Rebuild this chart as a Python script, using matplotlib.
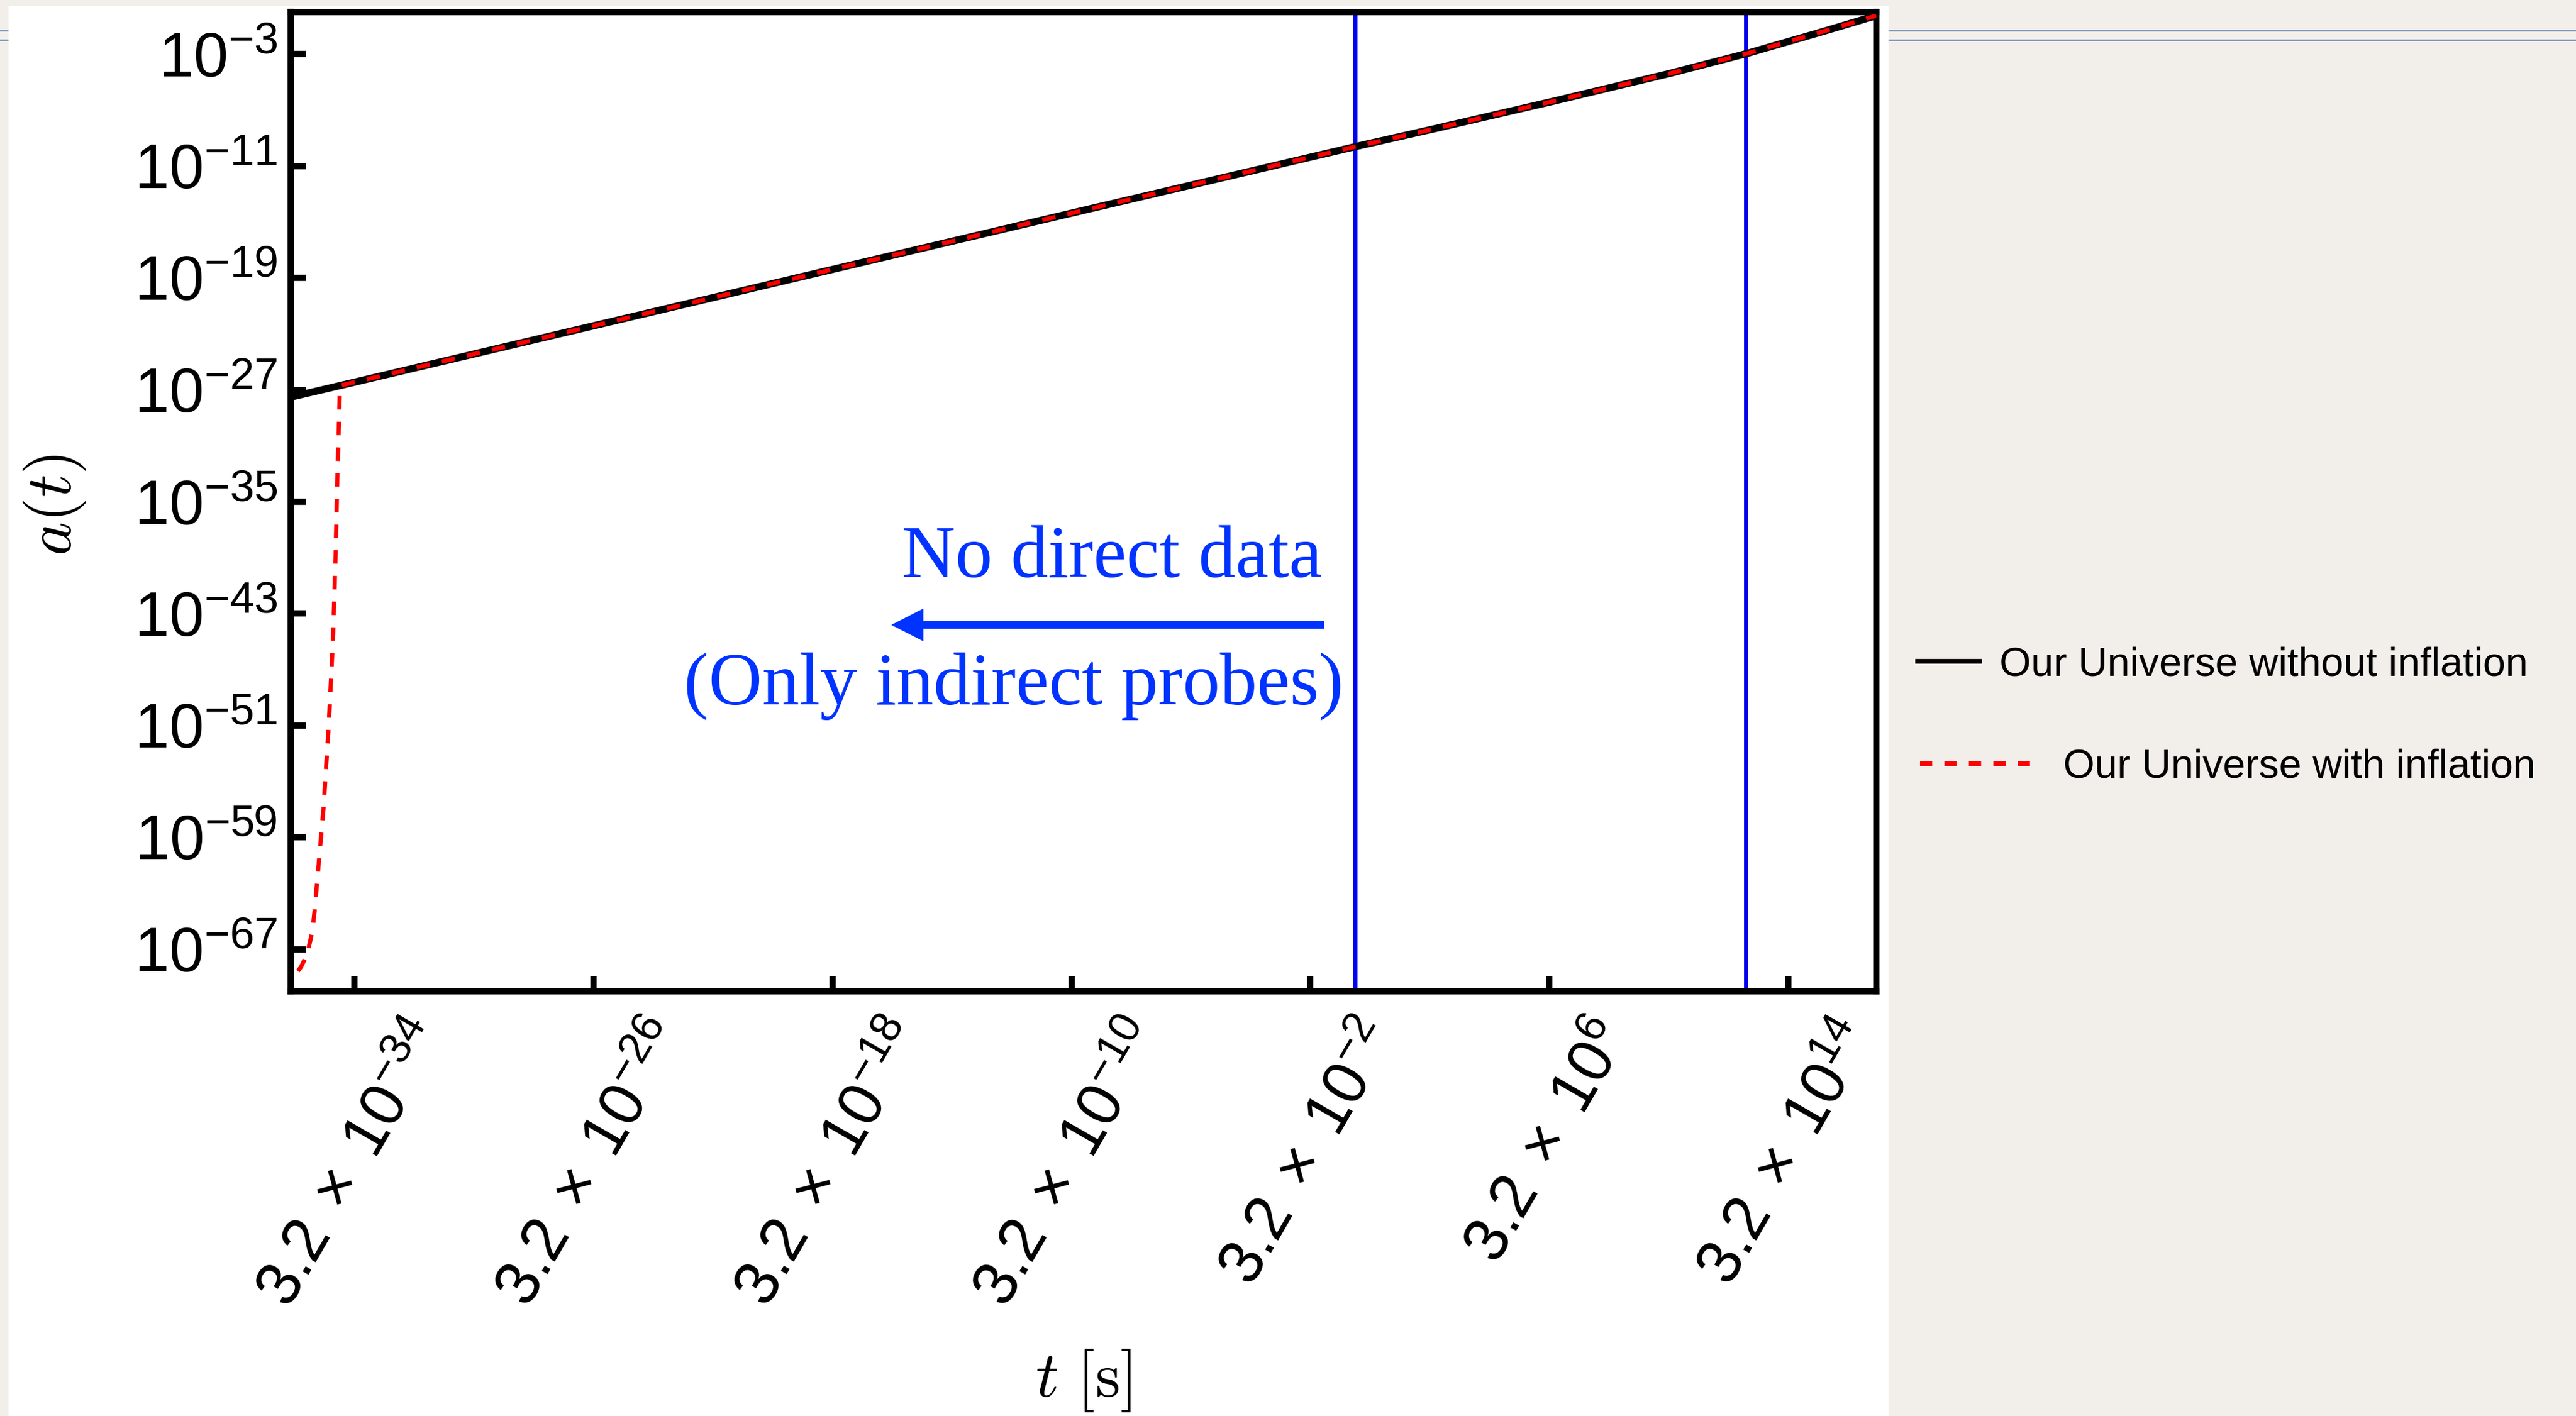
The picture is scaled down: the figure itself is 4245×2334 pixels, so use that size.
import matplotlib
matplotlib.use("Agg")
import matplotlib.pyplot as plt
from matplotlib.lines import Line2D
from matplotlib.patches import Rectangle, ArrowStyle
from matplotlib.ticker import NullLocator

plt.rcParams['font.family'] = ['Liberation Sans', 'DejaVu Sans']
plt.rcParams['mathtext.fontset'] = 'custom'
plt.rcParams['mathtext.rm'] = 'Liberation Sans'
plt.rcParams['mathtext.it'] = 'Liberation Sans:italic'
plt.rcParams['mathtext.bf'] = 'Liberation Sans:bold'

# scale factor without inflation (t in seconds)
t_std = [2.34e-36, 1.05e-34, 1.45e-13, 1.10e-9, 8.9e-6, 1.0, 5.4e2,
         4.2e6, 3.2e10, 1.3e13, 2.5e14, 2.5e15, 2.5e16, 2.8e17]
a_std = [3.0e-28, 2.0e-27, 8.9e-17, 7.9e-15, 7.1e-13, 2.4e-10, 5.0e-9,
         4.2e-7, 4.0e-5, 1.1e-3, 6.8e-3, 2.8e-2, 0.12, 0.56]

# inflationary stage, it joins the standard curve at t_std[1]
t_inf = [4.09e-36, 5.18e-36, 6.58e-36, 8.6e-36, 1.24e-35, 1.48e-35,
         1.70e-35, 2.96e-35, 4.42e-35, 6.04e-35, 7.43e-35, 8.59e-35]
a_inf = [2.8e-69, 5.5e-69, 1.55e-68, 6.0e-68, 1.8e-66, 5.5e-65,
         1.66e-63, 1.38e-57, 1.15e-51, 9.5e-46, 8.1e-40, 6.8e-34]

t_bbn = 1.0      # nucleosynthesis
t_rec = 1.2e13   # recombination

t_min, t_max = 10**-35.63, 10**17.45
a_min, a_max = 1e-70, 1.0

xtick_exp = [-34, -26, -18, -10, -2, 6, 14]
ytick_exp = [-3, -11, -19, -27, -35, -43, -51, -59, -67]

label_std = "Our Universe without inflation"
label_inf = "Our Universe with inflation"

W, H = 4245, 2334
blue_txt = '#0033ff'

fig = plt.figure(figsize=(W / 100, H / 100), dpi=100, facecolor='#f2efeb')

# slide header rules and the white panel the plot sits on
for yp in (50, 66):
    fig.add_artist(Line2D([0, 1], [1 - yp / H] * 2, color='#7b98c2', lw=2.2,
                          transform=fig.transFigure, zorder=-3))
fig.add_artist(Rectangle((14 / W, 0), (3112 - 14) / W, 1 - 10 / H,
                         transform=fig.transFigure, facecolor='white',
                         edgecolor='none', zorder=-2))

ax = fig.add_axes([479 / W, 1 - 1634 / H, (3092 - 479) / W, (1634 - 20) / H])
ax.set_xscale('log')
ax.set_yscale('log')

ax.plot(t_std, a_std, color='black', lw=8.5, solid_capstyle='butt',
        solid_joinstyle='round', zorder=3)
ax.plot(t_inf + t_std[1:], a_inf + a_std[1:], color='red', lw=5,
        dashes=(3.2, 2.9), dash_capstyle='butt', zorder=4)
ax.axvline(t_bbn, color='#0000ee', lw=5, zorder=2)
ax.axvline(t_rec, color='#0000ee', lw=5, zorder=2)

ax.set_xlim(t_min, t_max)
ax.set_ylim(a_min, a_max)
ax.set_xticks([3.2 * 10.0**e for e in xtick_exp],
              labels=[rf'$3.2\;\times\;10^{{{e}}}$' for e in xtick_exp])
ax.set_yticks([10.0**e for e in ytick_exp],
              labels=[rf'$10^{{{e}}}$' for e in ytick_exp])
ax.xaxis.set_minor_locator(NullLocator())
ax.yaxis.set_minor_locator(NullLocator())

ax.tick_params(direction='in', length=18, width=7.5, labelsize=74,
               top=False, right=False)
ax.tick_params(axis='y', pad=16)
ax.tick_params(axis='x', pad=26, rotation=60)
for sp in ax.spines.values():
    sp.set_linewidth(7.5)

ax.set_xlabel(r'$t\ [\mathrm{s}]$', fontsize=76, math_fontfamily='cm')
ax.xaxis.set_label_coords(0.5, -0.364)
ax.set_ylabel(r'$a(t)$', fontsize=76, math_fontfamily='cm')
ax.yaxis.set_label_coords(-0.128, 0.497)

# "no direct data" note with the arrow pointing to early times
ax.text(0.6503, 0.4232, 'No direct data', transform=ax.transAxes,
        ha='right', va='baseline', fontsize=88, family='Liberation Serif',
        color=blue_txt)
ax.text(0.6641, 0.2931, '(Only indirect probes)', transform=ax.transAxes,
        ha='right', va='baseline', fontsize=88, family='Liberation Serif',
        color=blue_txt)
ax.annotate('', xy=(0.3788, 0.3742), xytext=(0.6518, 0.3742),
            xycoords='axes fraction', textcoords='axes fraction',
            arrowprops=dict(arrowstyle=ArrowStyle.Simple(head_length=0.95,
                                                         head_width=0.97,
                                                         tail_width=0.235),
                            mutation_scale=40, color=blue_txt, lw=0,
                            shrinkA=0, shrinkB=0))

# legend entries sit beside the panel, each with its own sample length
h_std = Line2D([], [], color='black', lw=5.5)
h_inf = Line2D([], [], color='red', lw=5.8, dashes=(2.5, 2.5))
fig.legend([h_std], [label_std], loc='center left',
           bbox_to_anchor=(3160 / W, 1 - 1096 / H), frameon=False, fontsize=48,
           handlelength=1.53, handletextpad=0.5, borderpad=0, borderaxespad=0)
fig.legend([h_inf], [label_inf], loc='center left',
           bbox_to_anchor=(3164 / W, 1 - 1265 / H), frameon=False, fontsize=48,
           handlelength=2.76, handletextpad=0.78, borderpad=0, borderaxespad=0)

fig.savefig('out.png', dpi=100, facecolor=fig.get_facecolor())
